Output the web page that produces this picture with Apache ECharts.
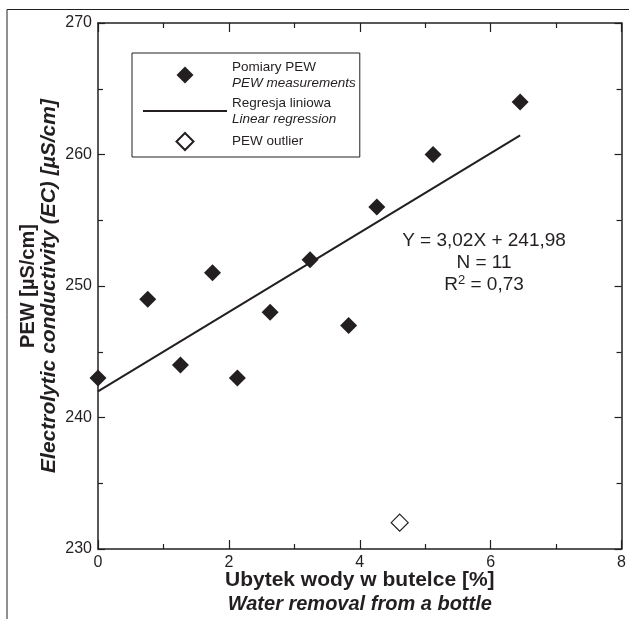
<!DOCTYPE html>
<html>
<head>
<meta charset="utf-8">
<script src="https://cdn.jsdelivr.net/npm/echarts@6/dist/echarts.min.js"></script>
<style>
html, body { margin: 0; padding: 0; background: #fff; }
#pew-chart { width: 629px; height: 619px; }
</style>
</head>
<body>
<div id="pew-chart"></div>
<script>
// measured points: water removal [%] vs EC [uS/cm]
var waterLoss = [0, 0.76, 1.26, 1.75, 2.13, 2.63, 3.24, 3.83, 4.26, 5.12, 6.45];
var conductivity = [243, 249, 244, 251, 243, 248, 252, 247, 256, 260, 264];
var outlierX = [4.61];
var outlierY = [232];
var slope = 3.02;
var intercept = 241.98;
var xTicks = [0, 2, 4, 6, 8];
var yTicks = [230, 240, 250, 260, 270];

var FONT = 'Liberation Sans, Arial, sans-serif';
var INK = '#231f20';

// legend diamond kept square inside the wide legend slot (84x17)
var LEGEND_DIAMOND = 'path://M0,8.5L0,8.5M84,8.5L84,8.5M42,0L50.5,8.5L42,17L33.5,8.5Z';

var pewChart = echarts.init(document.getElementById('pew-chart'));

function pairs(xs, ys) {
    var out = [];
    for (var i = 0; i < xs.length; i++) {
        out.push([xs[i], ys[i]]);
    }
    return out;
}

function regressionLine() {
    var lo = Math.min.apply(null, waterLoss);
    var hi = Math.max.apply(null, waterLoss);
    return [[lo, intercept + slope * lo], [hi, intercept + slope * hi]];
}

function axisBase(extra) {
    var base = {
        type: 'value',
        axisLine: { show: true, onZero: false, lineStyle: { color: INK, width: 1.5 } },
        axisTick: { show: true, inside: true, length: 9, lineStyle: { color: INK, width: 1.2 } },
        minorTick: { show: true, splitNumber: 2, length: 5, lineStyle: { color: INK, width: 1.2 } },
        splitLine: { show: false },
        axisLabel: { show: false }
    };
    for (var k in extra) base[k] = extra[k];
    return base;
}

var legendNames = {
    'Pomiary PEW': '{a|Pomiary PEW}\n{b|PEW measurements}',
    'Regresja liniowa': '{a|Regresja liniowa}\n{b|Linear regression}',
    'PEW outlier': '{a|PEW outlier}'
};

pewChart.setOption({
    animation: false,
    backgroundColor: '#fff',
    textStyle: { fontFamily: FONT },
    grid: { left: 98, right: 5, top: 23, bottom: 70 },
    legend: {
        orient: 'vertical',
        left: 132,
        top: 53,
        padding: [7, 4, 6, 10],
        itemWidth: 84,
        itemHeight: 17,
        itemGap: 6,
        borderColor: INK,
        borderWidth: 1,
        data: [
            { name: 'Pomiary PEW', icon: LEGEND_DIAMOND },
            { name: 'Regresja liniowa', itemStyle: { opacity: 0 } },
            { name: 'PEW outlier', icon: LEGEND_DIAMOND }
        ],
        formatter: function(name) { return legendNames[name]; },
        textStyle: {
            fontFamily: FONT,
            color: INK,
            rich: {
                a: { fontSize: 13.5, lineHeight: 16, fontFamily: FONT, color: INK },
                b: { fontSize: 13.5, lineHeight: 16, fontFamily: FONT, color: INK, fontStyle: 'italic' }
            }
        }
    },
    xAxis: [
        axisBase({
            position: 'bottom',
            min: xTicks[0],
            max: xTicks[xTicks.length - 1],
            interval: 2,
            axisLabel: { show: true, fontSize: 16, color: INK, margin: 6, fontFamily: FONT },
            name: '{a|Ubytek wody w butelce [%]}\n{b|Water removal from a bottle}',
            nameLocation: 'middle',
            nameGap: 19,
            nameMoveOverlap: false,
            nameTextStyle: {
                rich: {
                    a: { fontSize: 21, fontWeight: 'bold', lineHeight: 24, color: INK, fontFamily: FONT },
                    b: { fontSize: 20, fontWeight: 'bold', fontStyle: 'italic', lineHeight: 24, color: INK, fontFamily: FONT }
                }
            }
        }),
        axisBase({
            position: 'top',
            min: xTicks[0],
            max: xTicks[xTicks.length - 1],
            interval: 2
        })
    ],
    yAxis: [
        axisBase({
            position: 'left',
            min: yTicks[0],
            max: yTicks[yTicks.length - 1],
            interval: 10,
            axisTick: { show: true, inside: true, length: 7, lineStyle: { color: INK, width: 1.2 } },
            axisLabel: { show: true, fontSize: 16, color: INK, margin: 6, fontFamily: FONT },
            name: '{a|PEW [µS/cm]}\n{b|Electrolytic conductivity (EC) [µS/cm]}',
            nameLocation: 'middle',
            nameRotate: 90,
            nameGap: 38,
            nameMoveOverlap: false,
            nameTextStyle: {
                rich: {
                    a: { fontSize: 20, fontWeight: 'bold', lineHeight: 21, color: INK, fontFamily: FONT },
                    b: { fontSize: 21, fontWeight: 'bold', fontStyle: 'italic', lineHeight: 21, color: INK, fontFamily: FONT }
                }
            }
        }),
        axisBase({
            position: 'right',
            min: yTicks[0],
            max: yTicks[yTicks.length - 1],
            interval: 10,
            axisTick: { show: true, inside: true, length: 7, lineStyle: { color: INK, width: 1.2 } }
        })
    ],
    series: [
        {
            name: 'Regresja liniowa',
            type: 'line',
            symbol: 'none',
            z: 2,
            lineStyle: { color: INK, width: 2 },
            itemStyle: { color: INK },
            data: regressionLine()
        },
        {
            name: 'Pomiary PEW',
            type: 'scatter',
            symbol: 'diamond',
            symbolSize: 17,
            z: 3,
            itemStyle: { color: INK, opacity: 1 },
            data: pairs(waterLoss, conductivity)
        },
        {
            name: 'PEW outlier',
            type: 'scatter',
            symbol: 'diamond',
            symbolSize: 17,
            z: 3,
            itemStyle: { color: '#fff', borderColor: INK, borderWidth: 1.2, opacity: 1 },
            data: pairs(outlierX, outlierY)
        }
    ],
    graphic: [
        {
            type: 'polyline',
            silent: true,
            shape: { points: [[7, 619], [7, 9.5], [629, 9.5]] },
            style: { stroke: INK, lineWidth: 1, fill: null }
        },
        {
            type: 'text',
            x: 484,
            y: 230,
            style: {
                text: '{t|Y = 3,02X + 241,98}\n{t|N = 11}\n{t|R}{s|2}{t| = 0,73}',
                align: 'center',
                fill: INK,
                rich: {
                    t: { fontSize: 19, lineHeight: 22, fontFamily: FONT, color: INK, align: 'center' },
                    s: { fontSize: 13, lineHeight: 22, fontFamily: FONT, color: INK, align: 'center', verticalAlign: 'top', padding: [0, 0, 6, 0] }
                }
            }
        }
    ]
});
</script>
</body>
</html>
